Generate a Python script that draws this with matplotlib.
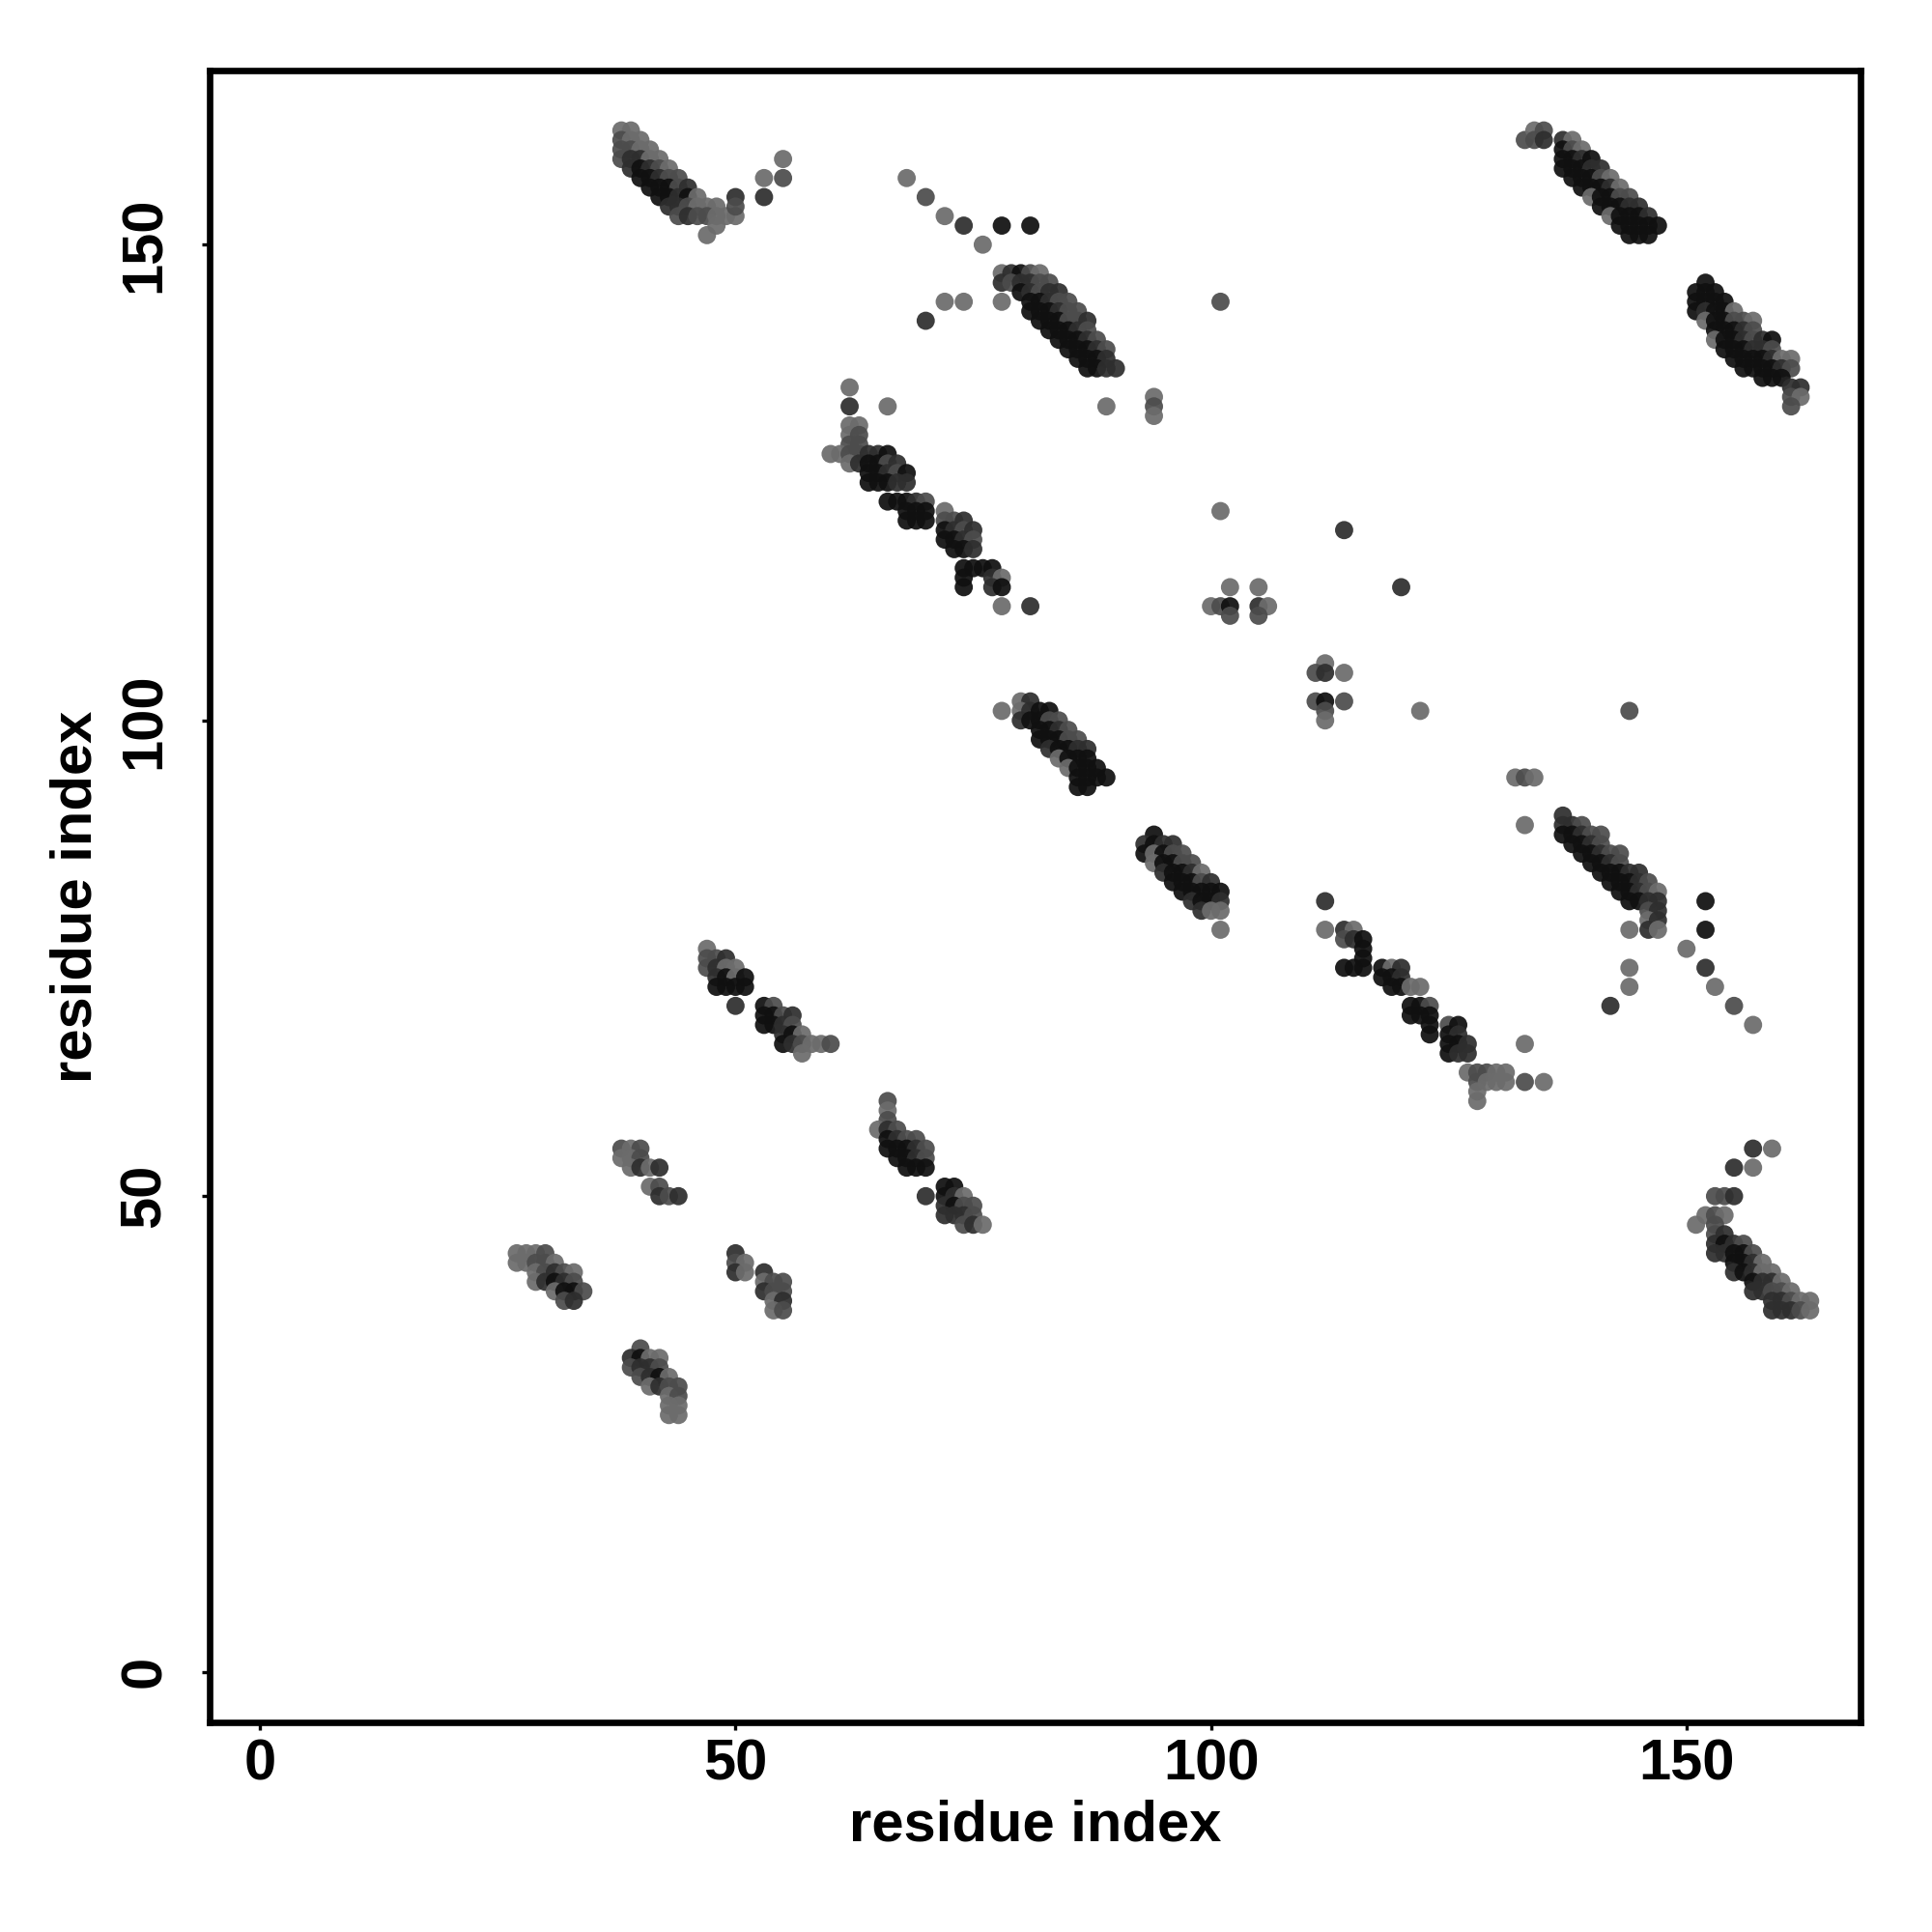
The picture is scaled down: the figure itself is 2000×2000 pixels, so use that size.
import numpy as np
import matplotlib
matplotlib.use("Agg")
import matplotlib.pyplot as plt

# contacts as (residue i, residue j, shade level); level 0 = black ... 3 = light grey
strand_38_162 = [
    (38, 162, 3), (39, 162, 3),
    (38, 161, 2), (39, 161, 3), (40, 161, 3),
    (38, 160, 2), (39, 160, 2), (40, 160, 3), (41, 160, 3),
    (38, 159, 2), (39, 159, 1), (40, 159, 1), (41, 159, 3), (42, 159, 3),
    (39, 158, 1), (40, 158, 0), (41, 158, 1), (42, 158, 2), (43, 158, 3),
    (40, 157, 0), (41, 157, 0), (42, 157, 1), (43, 157, 2), (44, 157, 2),
    (41, 156, 0), (42, 156, 0), (43, 156, 0), (44, 156, 2), (45, 156, 1),
    (42, 155, 0), (43, 155, 0), (44, 155, 1), (45, 155, 0), (46, 155, 3),
    (43, 154, 1), (44, 154, 1), (45, 154, 2), (46, 154, 3), (47, 154, 3), (48, 154, 3),
    (44, 153, 2), (45, 153, 1), (46, 153, 2), (47, 153, 2), (48, 153, 3), (49, 153, 3), (50, 153, 3),
    (48, 152, 3), (47, 151, 3),
    (50, 155, 1), (50, 154, 2), (53, 157, 3), (53, 155, 1), (55, 159, 3), (55, 157, 2),
]

strand_78_147 = [
    (68, 157, 3), (70, 155, 2), (72, 153, 3), (74, 152, 1), (76, 150, 3),
    (78, 152, 0), (81, 152, 0), (72, 144, 3), (74, 144, 3), (78, 144, 3),
    (70, 142, 1), (89, 133, 3), (94, 134, 3), (94, 133, 2), (94, 132, 3), (101, 144, 2),
    (78, 147, 3), (79, 147, 1), (80, 147, 0), (81, 147, 2), (82, 147, 3),
    (78, 146, 1), (79, 146, 2), (80, 146, 1), (81, 146, 1), (82, 146, 2), (83, 146, 2),
    (80, 145, 0), (81, 145, 1), (82, 145, 2), (83, 145, 1), (84, 145, 1),
    (81, 144, 0), (82, 144, 0), (83, 144, 1), (84, 144, 2), (85, 144, 2),
    (81, 143, 0), (82, 143, 0), (83, 143, 0), (84, 143, 1), (85, 143, 2), (86, 143, 2),
    (82, 142, 0), (83, 142, 0), (84, 142, 0), (85, 142, 2), (86, 142, 2), (87, 142, 1),
    (83, 141, 0), (84, 141, 0), (85, 141, 0), (86, 141, 1), (87, 141, 2),
    (84, 140, 0), (85, 140, 0), (86, 140, 0), (87, 140, 1), (88, 140, 2),
    (85, 139, 0), (86, 139, 0), (87, 139, 0), (88, 139, 1), (89, 139, 2),
    (86, 138, 0), (87, 138, 0), (88, 138, 0), (89, 138, 1),
    (87, 137, 0), (88, 137, 0), (89, 137, 1), (90, 137, 1),
]

strand_60_128 = [
    (62, 135, 3), (62, 133, 1), (66, 133, 3),
    (62, 131, 3), (63, 131, 3), (62, 130, 3), (63, 130, 2), (62, 129, 2), (63, 129, 2),
    (60, 128, 3), (61, 128, 3), (62, 128, 2), (63, 128, 2), (64, 128, 1), (65, 128, 1), (66, 128, 0),
    (62, 127, 3), (63, 127, 1), (64, 127, 0), (65, 127, 0), (66, 127, 2), (67, 127, 1),
    (64, 126, 0), (65, 126, 0), (66, 126, 1), (67, 126, 2), (68, 126, 0),
    (64, 125, 0), (65, 125, 0), (66, 125, 0), (67, 125, 1), (68, 125, 1),
    (66, 123, 0), (67, 123, 0), (68, 123, 0), (69, 123, 1), (70, 123, 2),
    (68, 122, 0), (69, 122, 0), (70, 122, 0),
    (68, 121, 0), (69, 121, 0), (70, 121, 0),
    (72, 122, 3), (72, 121, 2), (73, 121, 2), (74, 121, 1),
    (72, 120, 0), (73, 120, 1), (74, 120, 2), (75, 120, 1),
    (72, 119, 0), (73, 119, 0), (74, 119, 1), (75, 119, 2),
    (73, 118, 0), (74, 118, 0), (75, 118, 1),
    (74, 116, 0), (75, 116, 0), (76, 116, 0), (77, 116, 0),
    (74, 115, 0), (77, 115, 1), (78, 115, 3),
    (74, 114, 0), (77, 114, 1), (78, 114, 0),
    (78, 112, 3), (81, 112, 1),
]

scattered_100_120 = [
    (101, 122, 3), (114, 120, 1), (120, 114, 1), (102, 114, 3), (105, 114, 3),
    (100, 112, 3), (101, 112, 2), (102, 112, 0), (105, 112, 1), (106, 112, 3),
    (102, 111, 2), (105, 111, 2),
    (112, 106, 3), (111, 105, 2), (112, 105, 1), (114, 105, 3),
    (111, 102, 2), (112, 102, 0), (114, 102, 2), (112, 101, 2), (112, 100, 3), (122, 101, 3),
]

strand_80_102 = [
    (78, 101, 3),
    (80, 102, 3), (81, 102, 1),
    (80, 101, 3), (81, 101, 1), (82, 101, 0), (83, 101, 0),
    (80, 100, 1), (81, 100, 0), (82, 100, 0), (83, 100, 2), (84, 100, 2),
    (82, 99, 0), (83, 99, 0), (84, 99, 1), (85, 99, 2),
    (82, 98, 0), (83, 98, 0), (84, 98, 0), (85, 98, 2), (86, 98, 2),
    (83, 97, 1), (84, 97, 0), (85, 97, 0), (86, 97, 1), (87, 97, 1),
    (84, 96, 3), (85, 96, 0), (86, 96, 0), (87, 96, 0),
    (85, 95, 3), (86, 95, 0), (87, 95, 0), (88, 95, 0),
    (86, 94, 0), (87, 94, 0), (88, 94, 0), (89, 94, 0),
    (86, 93, 0), (87, 93, 0),
]

strand_93_88 = [
    (94, 88, 0),
    (93, 87, 1), (94, 87, 0), (95, 87, 1), (96, 87, 1),
    (93, 86, 0), (94, 86, 3), (95, 86, 0), (96, 86, 2), (97, 86, 2),
    (94, 85, 3), (95, 85, 0), (96, 85, 0), (97, 85, 2), (98, 85, 2),
    (95, 84, 1), (96, 84, 0), (97, 84, 0), (98, 84, 1), (99, 84, 3),
    (96, 83, 0), (97, 83, 0), (98, 83, 0), (99, 83, 2), (100, 83, 1),
    (97, 82, 0), (98, 82, 0), (99, 82, 0), (100, 82, 0), (101, 82, 0),
    (98, 81, 1), (99, 81, 0), (100, 81, 0), (101, 81, 1),
    (99, 80, 1), (100, 80, 3), (101, 80, 3),
    (101, 78, 3),
]

strand_112_81 = [
    (132, 94, 3), (133, 94, 2), (134, 94, 3), (133, 89, 3), (112, 81, 1), (112, 78, 3),
    (114, 78, 1), (115, 78, 3), (114, 77, 2), (115, 77, 1), (116, 77, 0), (116, 76, 0), (116, 75, 0),
    (114, 74, 0), (115, 74, 0), (116, 74, 0), (118, 74, 0), (119, 74, 3), (120, 74, 1),
    (118, 73, 0), (119, 73, 0), (120, 73, 1),
    (119, 72, 0), (120, 72, 0), (121, 72, 3), (122, 72, 3),
    (121, 70, 0), (122, 70, 0), (123, 70, 2),
    (121, 69, 0), (122, 69, 0), (123, 69, 0),
    (123, 68, 0), (125, 68, 2), (126, 68, 0),
    (123, 67, 0), (125, 67, 0), (126, 67, 1),
    (125, 66, 0), (126, 66, 0), (127, 66, 1),
    (125, 65, 0), (126, 65, 1), (127, 65, 1),
    (127, 63, 3), (128, 63, 2), (129, 63, 2), (130, 63, 3), (131, 63, 3),
    (128, 62, 2), (129, 62, 3), (130, 62, 3), (131, 62, 3), (133, 62, 2), (135, 62, 3),
    (128, 61, 3), (128, 60, 3), (133, 66, 3),
]

strand_137_90 = [
    (137, 90, 1),
    (137, 89, 1), (138, 89, 1), (139, 89, 2),
    (137, 88, 0), (138, 88, 0), (139, 88, 1), (140, 88, 2), (141, 88, 2),
    (138, 87, 0), (139, 87, 0), (140, 87, 1), (141, 87, 2),
    (139, 86, 0), (140, 86, 0), (141, 86, 1), (142, 86, 2), (143, 86, 2),
    (140, 85, 0), (141, 85, 0), (142, 85, 1), (143, 85, 2),
    (141, 84, 0), (142, 84, 0), (143, 84, 0), (144, 84, 1), (145, 84, 1),
    (142, 83, 0), (143, 83, 0), (144, 83, 0), (145, 83, 1), (146, 83, 2),
    (143, 82, 0), (144, 82, 0), (145, 82, 1), (146, 82, 2), (147, 82, 3),
    (144, 81, 0), (145, 81, 0), (146, 81, 1), (147, 81, 1),
    (146, 80, 2), (147, 80, 1), (146, 79, 3), (147, 79, 1), (146, 78, 1), (147, 78, 3),
    (144, 78, 3), (144, 74, 3), (144, 72, 3), (142, 70, 1),
    (152, 81, 0), (152, 78, 0), (152, 74, 1), (150, 76, 3),
    (153, 72, 3), (155, 70, 2), (157, 68, 3), (144, 101, 2),
]

strand_137_161 = [
    (133, 161, 2), (134, 162, 3), (135, 162, 2), (134, 161, 2), (135, 161, 1),
    (137, 161, 1), (138, 161, 3),
    (137, 160, 0), (138, 160, 2), (139, 160, 3),
    (137, 159, 0), (138, 159, 0), (139, 159, 1), (140, 159, 0),
    (137, 158, 0), (138, 158, 0), (139, 158, 0), (140, 158, 1), (141, 158, 1),
    (138, 157, 0), (139, 157, 0), (140, 157, 0), (141, 157, 2), (142, 157, 3),
    (139, 156, 0), (140, 156, 0), (141, 156, 0), (142, 156, 1), (143, 156, 3),
    (140, 155, 3), (141, 155, 0), (142, 155, 0), (143, 155, 2), (144, 155, 2),
    (141, 154, 0), (142, 154, 0), (143, 154, 0), (144, 154, 1), (145, 154, 1),
    (142, 153, 3), (143, 153, 0), (144, 153, 0), (145, 153, 0), (146, 153, 1),
    (143, 152, 0), (144, 152, 0), (145, 152, 0), (146, 152, 0), (147, 152, 0),
    (144, 151, 0), (145, 151, 0), (146, 151, 0),
]

strand_151_146 = [
    (152, 146, 0),
    (151, 145, 0), (152, 145, 0), (153, 145, 0),
    (151, 144, 0), (152, 144, 0), (153, 144, 0), (154, 144, 0),
    (151, 143, 0), (152, 143, 1), (153, 143, 0), (154, 143, 0), (155, 143, 3),
    (152, 142, 3), (153, 142, 0), (154, 142, 0), (155, 142, 2), (156, 142, 2), (157, 142, 3),
    (153, 141, 0), (154, 141, 0), (155, 141, 0), (156, 141, 1), (157, 141, 2),
    (153, 140, 3), (154, 140, 0), (155, 140, 0), (156, 140, 1), (157, 140, 2), (158, 140, 1), (159, 140, 0),
    (154, 139, 0), (155, 139, 0), (156, 139, 0), (157, 139, 1), (158, 139, 1), (159, 139, 2),
    (155, 138, 0), (156, 138, 0), (157, 138, 0), (158, 138, 0), (159, 138, 1), (160, 138, 3), (161, 138, 3),
    (156, 137, 0), (157, 137, 0), (158, 137, 0), (159, 137, 0), (160, 137, 1), (161, 137, 2),
    (158, 136, 0), (159, 136, 0), (160, 136, 0),
    (161, 135, 1), (162, 135, 1), (161, 134, 2), (162, 134, 3), (161, 133, 2),
]

strand_153_50 = [
    (157, 55, 1), (159, 55, 3), (155, 53, 1), (157, 53, 3),
    (153, 50, 2), (154, 50, 2), (155, 50, 1),
    (152, 48, 3), (153, 48, 2), (154, 48, 3), (151, 47, 3), (153, 47, 2),
    (153, 46, 2), (154, 46, 1),
    (153, 45, 1), (154, 45, 0), (155, 45, 1), (156, 45, 2),
    (153, 44, 1), (154, 44, 1), (155, 44, 0), (156, 44, 0), (157, 44, 2),
    (155, 43, 0), (156, 43, 0), (157, 43, 1), (158, 43, 3),
    (155, 42, 1), (156, 42, 0), (157, 42, 1), (158, 42, 3), (159, 42, 3),
    (157, 41, 0), (158, 41, 1), (159, 41, 1), (160, 41, 3),
    (157, 40, 1), (158, 40, 1), (159, 40, 2), (160, 40, 2), (161, 40, 3),
    (159, 39, 1), (160, 39, 1), (161, 39, 2), (162, 39, 3), (163, 39, 3),
    (159, 38, 1), (160, 38, 1), (161, 38, 1), (162, 38, 2), (163, 38, 3),
]

strand_47_76 = [
    (47, 76, 3), (47, 75, 2), (48, 75, 2), (49, 75, 1),
    (47, 74, 2), (48, 74, 1), (49, 74, 3), (50, 74, 3),
    (48, 73, 1), (49, 73, 0), (50, 73, 3), (51, 73, 0),
    (48, 72, 0), (49, 72, 0), (50, 72, 0), (51, 72, 0),
    (50, 70, 1),
    (53, 70, 0), (54, 70, 2),
    (53, 69, 0), (54, 69, 0), (55, 69, 2), (56, 69, 1),
    (53, 68, 0), (54, 68, 0), (55, 68, 1), (56, 68, 2),
    (55, 67, 1), (56, 67, 0), (57, 67, 3),
    (55, 66, 0), (56, 66, 1), (57, 66, 2), (58, 66, 3), (59, 66, 3), (60, 66, 2),
    (57, 65, 3),
]

strand_66_60 = [
    (66, 60, 2), (66, 59, 3), (66, 58, 2),
    (65, 57, 3), (66, 57, 1), (67, 57, 2),
    (66, 56, 0), (67, 56, 1), (68, 56, 2), (69, 56, 2),
    (66, 55, 0), (67, 55, 0), (68, 55, 0), (69, 55, 1), (70, 55, 2),
    (67, 54, 0), (68, 54, 0), (69, 54, 1), (70, 54, 2),
    (68, 53, 0), (69, 53, 0), (70, 53, 0),
    (70, 50, 1),
    (72, 51, 0), (73, 51, 0),
    (72, 50, 0), (73, 50, 1), (74, 50, 3),
    (72, 49, 1), (73, 49, 0), (74, 49, 2), (75, 49, 2),
    (72, 48, 1), (73, 48, 1), (74, 48, 1), (75, 48, 2),
    (74, 47, 2), (75, 47, 1), (76, 47, 3),
]

small_sheets = [
    (38, 55, 2), (39, 55, 3), (40, 55, 2), (38, 54, 3), (39, 54, 3), (40, 54, 2),
    (39, 53, 3), (40, 53, 1), (41, 53, 3), (42, 53, 1),
    (41, 51, 3), (42, 51, 2), (42, 50, 1), (43, 50, 2), (44, 50, 1),
    (27, 44, 3), (28, 44, 3), (29, 44, 3), (30, 44, 2),
    (27, 43, 3), (28, 43, 3), (29, 43, 2), (30, 43, 2), (31, 43, 3),
    (29, 42, 3), (30, 42, 2), (31, 42, 1), (32, 42, 2), (33, 42, 3),
    (29, 41, 3), (30, 41, 1), (31, 41, 0), (32, 41, 1), (33, 41, 2),
    (31, 40, 3), (32, 40, 0), (33, 40, 0), (34, 40, 2),
    (32, 39, 2), (33, 39, 1),
    (50, 44, 1), (50, 43, 2), (51, 43, 3), (50, 42, 1), (51, 42, 3), (53, 42, 1),
    (53, 41, 3), (54, 41, 2), (55, 41, 2), (53, 40, 1), (54, 40, 2), (55, 40, 2),
    (54, 39, 3), (55, 39, 1), (54, 38, 3), (55, 38, 2),
    (40, 34, 2), (39, 33, 1), (40, 33, 0), (41, 33, 3), (42, 33, 3),
    (39, 32, 2), (40, 32, 1), (41, 32, 1), (42, 32, 2),
    (40, 31, 2), (41, 31, 1), (42, 31, 0), (43, 31, 3),
    (41, 30, 3), (42, 30, 1), (43, 30, 2), (44, 30, 2),
    (43, 29, 3), (44, 29, 2), (43, 28, 3), (44, 28, 3), (43, 27, 3), (44, 27, 3),
]

shade_grey = ['#101010', '#2e2e2e', '#4c4c4c', '#6c6c6c']

groups = [strand_38_162, strand_78_147, strand_60_128, scattered_100_120,
          strand_80_102, strand_93_88, strand_112_81, strand_137_90,
          strand_137_161, strand_151_146, strand_153_50, strand_47_76,
          strand_66_60, small_sheets]

contacts = np.array([c for g in groups for c in g])
xi = contacts[:, 0]
yj = contacts[:, 1]
colors = [shade_grey[int(k)] for k in contacts[:, 2]]

plt.rcParams['font.family'] = ['Liberation Sans', 'DejaVu Sans']
plt.rcParams['font.weight'] = 'bold'

fig = plt.figure(figsize=(10, 10), dpi=200)
ax = fig.add_axes([0.1085, 0.1085, 0.8545, 0.855])
ax.scatter(xi, yj, s=46, c=colors, edgecolors='none', alpha=0.93)

ax.set_xlim(-5.3, 168.3)
ax.set_ylim(-5.3, 168.3)
ax.set_xticks([0, 50, 100, 150])
ax.set_yticks([0, 50, 100, 150])
for sp in ax.spines.values():
    sp.set_linewidth(2.4)
ax.tick_params(axis='both', length=3, width=1.2, labelsize=21.5)
ax.tick_params(axis='x', pad=3)
ax.tick_params(axis='y', pad=11)
for lab in ax.get_yticklabels():
    lab.set_rotation(90)
    lab.set_va('center')
ax.set_xlabel('residue index', fontsize=21.5, fontweight='bold', labelpad=3)
ax.set_ylabel('residue index', fontsize=21.5, fontweight='bold', labelpad=6)

fig.savefig('out.png', dpi=200, facecolor='white')
